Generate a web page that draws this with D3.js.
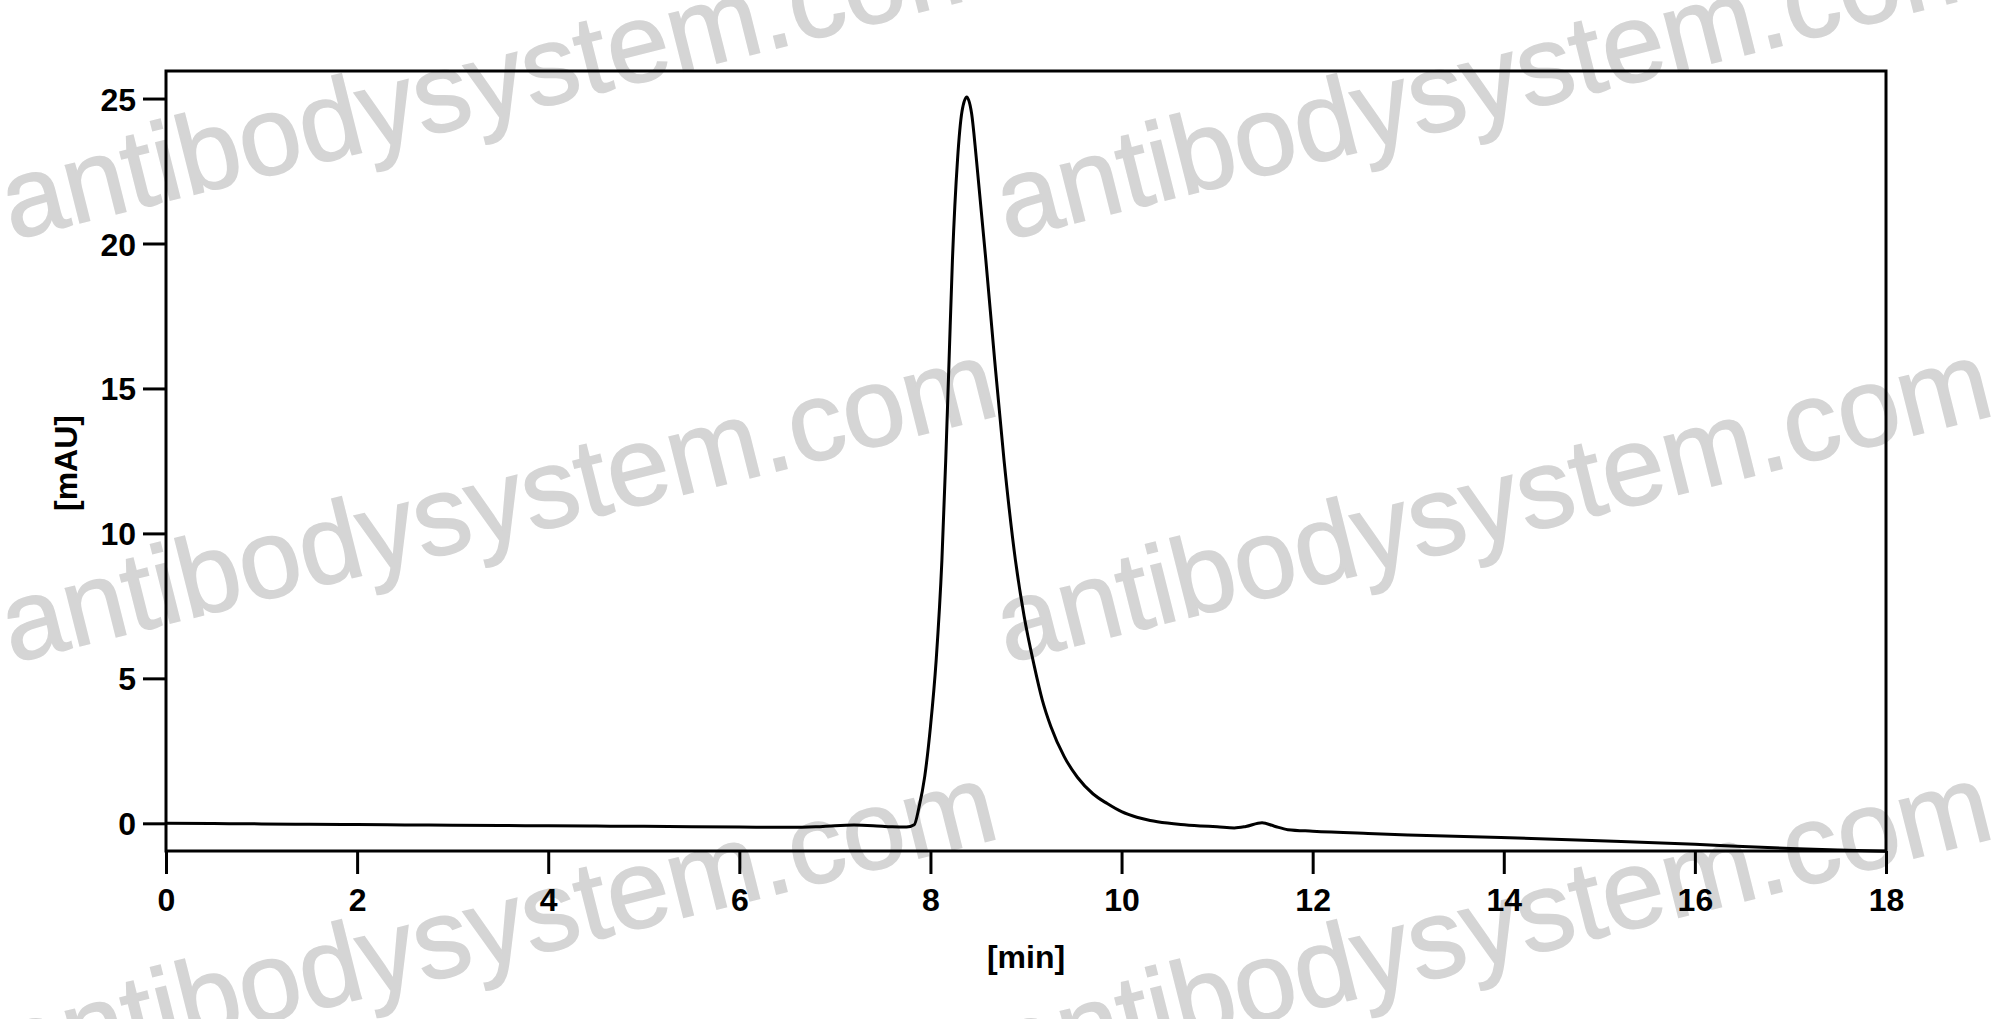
<!DOCTYPE html>
<html>
<head>
<meta charset="utf-8">
<script src="https://cdn.jsdelivr.net/npm/d3@7"></script>
<style>
  html, body { margin: 0; padding: 0; background: #fff; }
  svg { display: block; }
</style>
</head>
<body>
<svg id="chart" width="1996" height="1019"></svg>
<script>
// ---- data ----
const timeMin = [0.0, 0.5, 1.0, 1.5, 2.0, 2.5, 3.0, 3.5, 4.0, 4.5, 5.0, 5.5, 6.0, 6.5, 6.8, 7.0, 7.2, 7.4, 7.6, 7.75,
  7.83, 7.88, 7.94, 8.00, 8.06, 8.12, 8.16, 8.195, 8.23, 8.283, 8.33, 8.38, 8.43, 8.482, 8.58, 8.672, 8.77, 8.89, 8.98,
  9.085, 9.17, 9.26, 9.4, 9.54, 9.7, 9.85, 10.0, 10.16, 10.3, 10.48, 10.62, 10.83, 11.0, 11.18, 11.3, 11.47, 11.6, 11.74,
  12.0, 12.58, 13.0, 13.97, 15.0, 16.0, 16.5, 17.0, 17.5, 18.0];
const absorbance = [0.0, -0.01, -0.02, -0.035, -0.045, -0.055, -0.065, -0.075, -0.085, -0.095, -0.105, -0.12, -0.13, -0.14, -0.12, -0.08, -0.06, -0.08, -0.12, -0.13,
  -0.05, 0.55, 1.61, 3.33, 5.63, 9.08, 12.53, 15.98, 19.42, 22.87, 24.55, 25.05, 24.5, 22.87, 19.42, 15.98, 12.53, 9.06, 7.15,
  5.45, 4.26, 3.34, 2.3, 1.58, 1.02, 0.68, 0.4, 0.21, 0.1, 0.01, -0.04, -0.09, -0.12, -0.16, -0.11, 0.02, -0.1, -0.22,
  -0.27, -0.35, -0.4, -0.49, -0.6, -0.72, -0.8, -0.87, -0.92, -0.96];

const xTicks = [0, 2, 4, 6, 8, 10, 12, 14, 16, 18];
const yTicks = [0, 5, 10, 15, 20, 25];
const xDomain = [0, 18];
const yDomain = [-0.955, 25.95];
const xLabel = "[min]";
const yLabel = "[mAU]";
const watermarkText = "antibodysystem.com";
const watermarkOrigins = [[12, 240], [1007, 240], [12, 663], [1007, 663], [12, 1086], [1007, 1086]];

// ---- layout ----
const W = 1996, H = 1019;
const margin = { left: 166, right: 110, top: 71, bottom: 168 };
const innerW = W - margin.left - margin.right;
const innerH = H - margin.top - margin.bottom;

const svg = d3.select("#chart");

// watermark (behind the chart)
const wm = svg.append("g").attr("class", "watermark");
wm.selectAll("text")
  .data(watermarkOrigins)
  .join("text")
  .attr("transform", d => `translate(${d[0]},${d[1]}) rotate(-14.1)`)
  .attr("font-family", "Arial, 'Liberation Sans', sans-serif")
  .attr("font-size", 112)
  .attr("fill", "#d5d5d5")
  .attr("stroke", "#d5d5d5")
  .attr("stroke-width", 1.5)
  .text(watermarkText);

const g = svg.append("g").attr("transform", `translate(${margin.left},${margin.top})`);

const x = d3.scaleLinear().domain(xDomain).range([0, innerW]);
const y = d3.scaleLinear().domain(yDomain).range([innerH, 0]);

const font = "Arial, 'Liberation Sans', Helvetica, sans-serif";

// axes
const xAxis = d3.axisBottom(x).tickValues(xTicks).tickFormat(d3.format("d")).tickSize(23).tickPadding(14);
const yAxis = d3.axisLeft(y).tickValues(yTicks).tickFormat(d3.format("d")).tickSize(23).tickPadding(7);

const gx = g.append("g").attr("transform", `translate(0,${innerH})`).call(xAxis);
const gy = g.append("g").call(yAxis);

[gx, gy].forEach(a => {
  a.select(".domain").remove();
  a.selectAll(".tick line").attr("stroke", "#000").attr("stroke-width", 3);
  a.selectAll(".tick text")
    .attr("fill", "#000")
    .attr("font-family", font)
    .attr("font-weight", "bold")
    .attr("font-size", 32);
});
gy.selectAll(".tick text").attr("dy", "0.36em");

// curve
const line = d3.line()
  .x((d, i) => x(timeMin[i]))
  .y((d, i) => y(absorbance[i]))
  .curve(d3.curveMonotoneX);

g.append("path")
  .datum(absorbance)
  .attr("d", line)
  .attr("fill", "none")
  .attr("stroke", "#000")
  .attr("stroke-width", 3)
  .attr("stroke-linejoin", "round");

// frame
g.append("rect")
  .attr("x", 0).attr("y", 0)
  .attr("width", innerW).attr("height", innerH)
  .attr("fill", "none")
  .attr("stroke", "#000")
  .attr("stroke-width", 3);

// axis labels
g.append("text")
  .attr("x", innerW / 2)
  .attr("y", 968 - margin.top)
  .attr("text-anchor", "middle")
  .attr("font-family", font)
  .attr("font-weight", "bold")
  .attr("font-size", 32)
  .attr("fill", "#000")
  .text(xLabel);

g.append("text")
  .attr("transform", `translate(${77 - margin.left},${(innerH) / 2 + 2}) rotate(-90)`)
  .attr("text-anchor", "middle")
  .attr("font-family", font)
  .attr("font-weight", "bold")
  .attr("font-size", 32)
  .attr("fill", "#000")
  .text(yLabel);
</script>
</body>
</html>
